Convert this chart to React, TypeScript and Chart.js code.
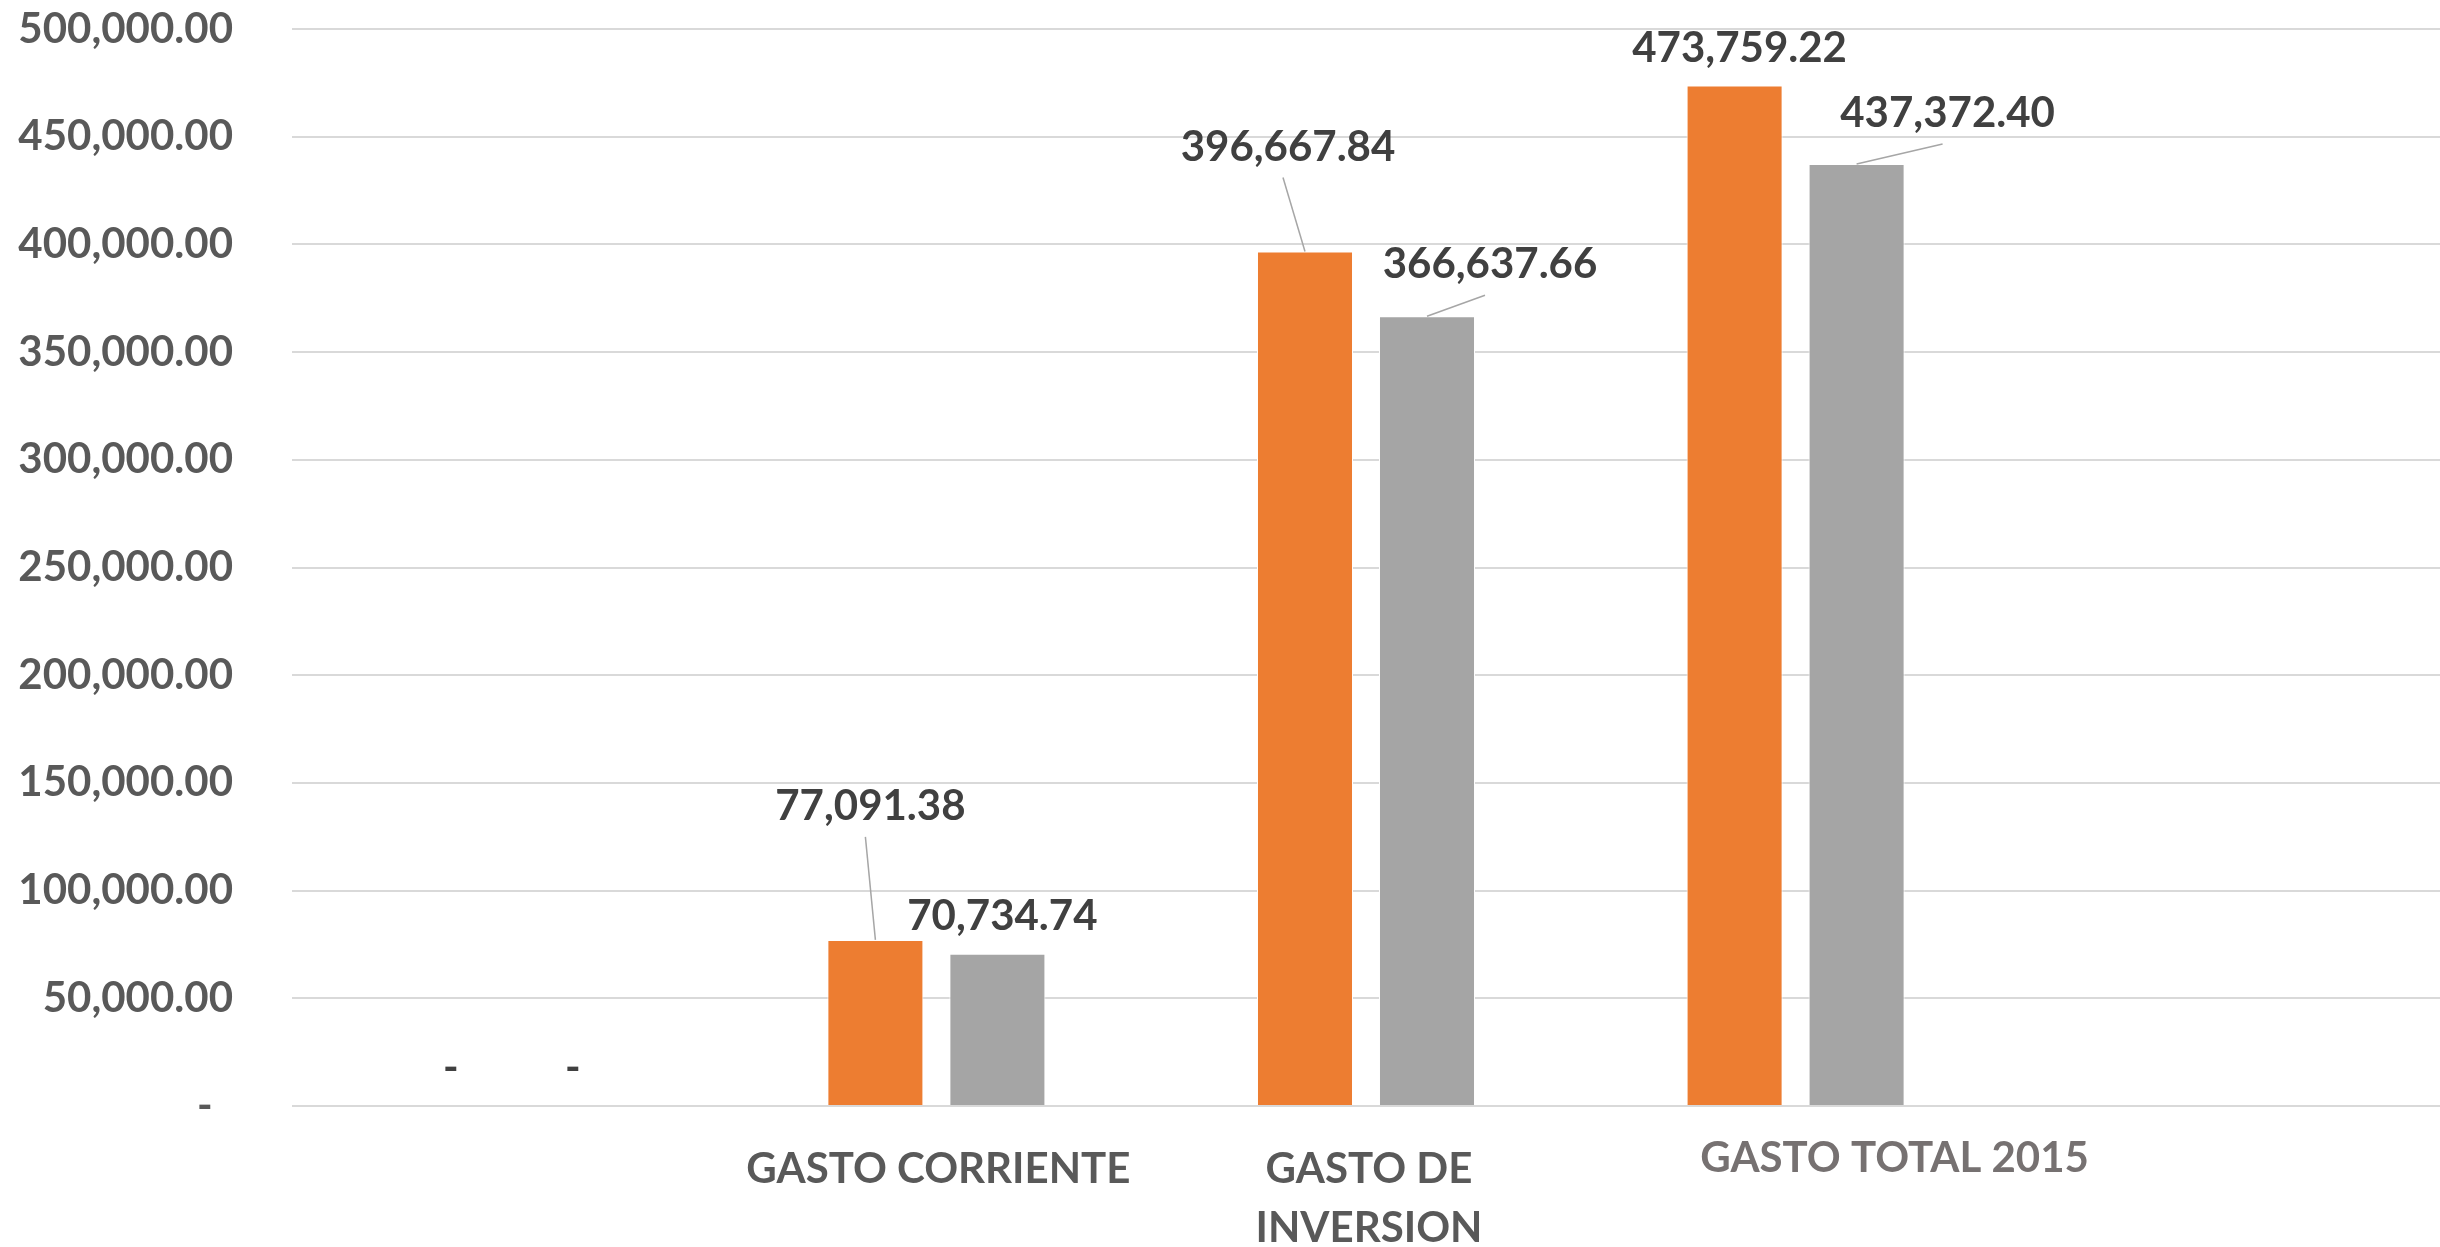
import React, { useEffect, useRef } from "react";
import { Chart, registerables } from "chart.js";

Chart.register(...registerables);

const categories: (string | string[])[] = ["", "GASTO CORRIENTE", ["GASTO DE", "INVERSION"], "GASTO TOTAL 2015", ""];
const seriesA: (number | null)[] = [0, 77091.38, 396667.84, 473759.22, null];
const seriesB: (number | null)[] = [0, 70734.74, 366637.66, 437372.4, null];
const yTicks = { min: 0, max: 500000, step: 50000 };

const FONT = "Lato, 'Open Sans', sans-serif";
const ORANGE = "#ED7D31";
const GRAY = "#A5A5A5";

// label displacement (dx, dy relative to default outside-end spot), leader flag
const labelMoves: { dx: number; dy: number; leader: boolean }[][] = [
  [
    { dx: 0, dy: 0, leader: false },
    { dx: -10, dy: -96, leader: true },
    { dx: -22, dy: -67, leader: true },
    { dx: 0, dy: 0, leader: false },
    { dx: 0, dy: 0, leader: false },
  ],
  [
    { dx: 0, dy: 0, leader: false },
    { dx: 0, dy: 0, leader: false },
    { dx: 58, dy: -14, leader: true },
    { dx: 86, dy: -13, leader: true },
    { dx: 0, dy: 0, leader: false },
  ],
];

const catLabelStyle = [
  { dx: 0, dy: 77, color: "#595959" },
  { dx: 2, dy: 77, color: "#595959" },
  { dx: 3, dy: 77, color: "#595959" },
  { dx: 99, dy: 66, color: "#767171" },
  { dx: 0, dy: 77, color: "#595959" },
];

const fmt = (v: number) =>
  v === 0 ? "-" : v.toLocaleString("en-US", { minimumFractionDigits: 2, maximumFractionDigits: 2 });

const dataLabelPlugin = {
  id: "dataLabels",
  afterDatasetsDraw(chart: any) {
    const ctx = chart.ctx;
    ctx.save();
    chart.data.datasets.forEach((ds: any, di: number) => {
      const meta = chart.getDatasetMeta(di);
      meta.data.forEach((bar: any, i: number) => {
        const v = ds.data[i];
        if (v === null || v === undefined) return;
        const mv = labelMoves[di][i];
        const cx = bar.x + 5 + mv.dx;
        const cy = bar.y - 39 + mv.dy;
        if (mv.leader) {
          ctx.strokeStyle = "#A6A6A6";
          ctx.lineWidth = 1.5;
          ctx.beginPath();
          ctx.moveTo(cx - 5, cy + 32);
          ctx.lineTo(bar.x, bar.y);
          ctx.stroke();
        }
        ctx.fillStyle = "#404040";
        ctx.font = `bold 42px ${FONT}`;
        ctx.textAlign = "center";
        ctx.textBaseline = "alphabetic";
        ctx.fillText(fmt(v), cx, cy + 15);
      });
    });
    ctx.restore();
  },
};

const catLabelPlugin = {
  id: "catLabels",
  afterDraw(chart: any) {
    const ctx = chart.ctx;
    const xs = chart.scales.x;
    const bottom = chart.chartArea.bottom;
    ctx.save();
    ctx.font = `bold 42px ${FONT}`;
    ctx.textAlign = "center";
    ctx.textBaseline = "alphabetic";
    categories.forEach((c, i) => {
      const lines = Array.isArray(c) ? c : [c];
      const st = catLabelStyle[i];
      const x = xs.getPixelForValue(i) + st.dx;
      ctx.fillStyle = st.color;
      lines.forEach((ln, li) => {
        ctx.fillText(ln, x, bottom + st.dy + li * 59);
      });
    });
    ctx.restore();
  },
};

export default function App() {
  const ref = useRef<HTMLCanvasElement>(null);
  useEffect(() => {
    document.body.style.margin = "0";
    const canvas = ref.current!;
    const chart = new Chart(canvas, {
      type: "bar",
      data: {
        labels: categories as any,
        datasets: [
          {
            label: "Serie 1",
            data: seriesA,
            backgroundColor: ORANGE,
            borderColor: "#FFFFFF",
            borderWidth: 1,
            categoryPercentage: 0.568,
            barPercentage: 0.787,
          },
          {
            label: "Serie 2",
            data: seriesB,
            backgroundColor: GRAY,
            borderColor: "#FFFFFF",
            borderWidth: 1,
            categoryPercentage: 0.568,
            barPercentage: 0.787,
          },
        ],
      },
      options: {
        animation: false,
        responsive: false,
        maintainAspectRatio: false,
        layout: { padding: { top: 29, left: 0, right: 0, bottom: 141 } },
        plugins: { legend: { display: false }, tooltip: { enabled: false } },
        scales: {
          x: {
            grid: { display: false, drawTicks: false },
            border: { display: false },
            ticks: { display: false },
          },
          y: {
            min: yTicks.min,
            max: yTicks.max,
            afterFit: (s: any) => {
              s.width = 292;
            },
            grid: { color: "#D9D9D9", lineWidth: 2, drawTicks: true, tickLength: 59, tickColor: "rgba(0,0,0,0)" },
            border: { display: false },
            ticks: {
              stepSize: yTicks.step,
              padding: 0,
              color: "#595959",
              font: { family: FONT, size: 42, weight: "bold" },
              callback: (v: any) => (Number(v) === 0 ? "-  " : fmt(Number(v))),
            },
          },
        },
      },
      plugins: [dataLabelPlugin, catLabelPlugin],
    });
    return () => chart.destroy();
  }, []);
  return <canvas ref={ref} width={2440} height={1247} style={{ display: "block" }} />;
}
